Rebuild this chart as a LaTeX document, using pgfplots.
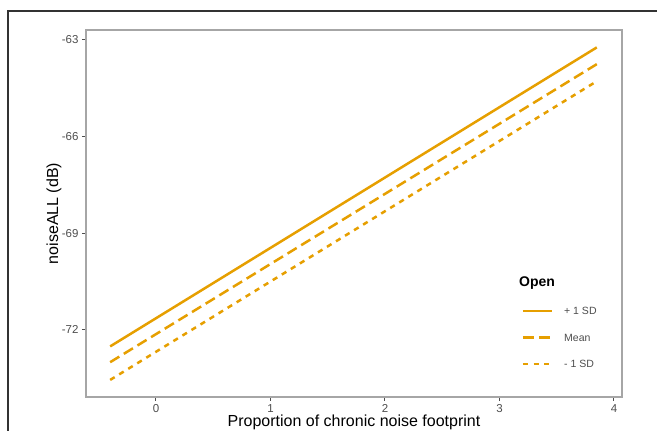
\documentclass[border=0pt]{standalone}
\usepackage{pgfplots}
\pgfplotsset{compat=1.18}
\usepackage{fontspec}
\setmainfont{Liberation Sans}
\definecolor{lineor}{HTML}{E69F00}
\definecolor{axgray}{HTML}{A6A6A6}
\definecolor{tickgray}{HTML}{4D4D4D}
\definecolor{framec}{HTML}{333333}
\begin{document}
\begin{tikzpicture}[x=1pt,y=1pt]
\useasboundingbox (0,0) rectangle (657,431);
\draw[framec, line width=1.4pt] (8,0) -- (8,420) -- (657,420);
\begin{axis}[
  at={(86pt,34pt)}, anchor=south west,
  scale only axis, width=536pt, height=367pt,
  xmin=-0.611, xmax=4.070, ymin=-74.08, ymax=-62.69,
  xtick={0,1,2,3,4}, ytick={-72,-69,-66,-63},
  xtick pos=bottom, ytick pos=left,
  axis line style={axgray, line width=1.2pt},
  tick align=outside, major tick length=4pt,
  every tick/.style={tickgray, line width=1pt},
  tick label style={tickgray, font=\fontsize{11.5}{12}\selectfont},
  /pgf/number format/assume math mode=true,
  yticklabel style={/pgf/number format/.cd, fixed},
  xlabel={Proportion of chronic noise footprint},
  ylabel={noiseALL (dB)},
  label style={font=\fontsize{16}{18}\selectfont, black},
  xlabel style={at={(axis description cs:0.5,-0.068)}, anchor=center},
  ylabel style={at={(axis description cs:-0.0597,0.5)}, anchor=center},
  legend image code/.code={\draw[#1] (0pt,0pt) -- (29pt,0pt);},
  legend style={draw=none, fill=none, at={(axis description cs:0.8125,0.2447)},
    anchor=north west, inner sep=0pt, row sep=19pt,
    nodes={inner sep=0pt, font=\fontsize{10.5}{11}\selectfont, text height=7.5pt, text depth=0pt, anchor=west, text=tickgray},
    /tikz/every odd column/.append style={column sep=11pt}},
]
\addplot[lineor, line width=2.5pt] coordinates {(-0.4,-72.51) (3.85,-63.23)};
\addlegendentry{+ 1 SD}
\addplot[lineor, line width=2.5pt, dash pattern=on 10.7pt off 5.3pt] coordinates {(-0.4,-73.00) (3.85,-63.75)};
\addlegendentry{Mean}
\addplot[lineor, line width=2.5pt, dash pattern=on 5.3pt off 5.3pt] coordinates {(-0.4,-73.55) (3.85,-64.28)};
\addlegendentry{- 1 SD}
\node[anchor=west, inner sep=0pt, font=\fontsize{14}{16}\selectfont\bfseries] at (axis description cs:0.8078,0.3106) {Open};
\end{axis}
\end{tikzpicture}
\end{document}
